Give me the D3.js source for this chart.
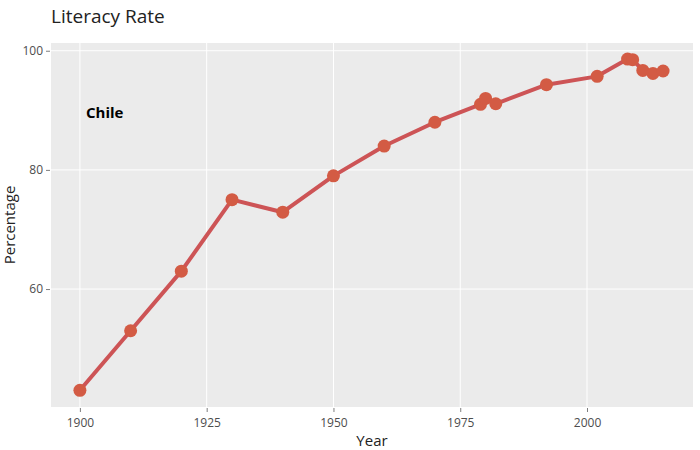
<!DOCTYPE html>
<html>
<head>
<meta charset="utf-8">
<script src="https://cdn.jsdelivr.net/npm/d3@7"></script>
<style>
  body { margin: 0; background: #fff; }
  svg { display: block; font-family: "Open Sans", "DejaVu Sans", sans-serif; }
</style>
</head>
<body>
<div id="chart"></div>
<script>
// literacy rate, Chile
const years = [1900, 1910, 1920, 1930, 1940, 1950, 1960, 1970, 1979, 1980, 1982, 1992, 2002, 2008, 2009, 2011, 2013, 2015]
const rates = [43.0, 53.0, 63.0, 75.0, 72.9, 79.0, 84.0, 88.0, 91.0, 92.0, 91.1, 94.3, 95.7, 98.6, 98.5, 96.7, 96.2, 96.6]
const xTicks = [1900, 1925, 1950, 1975, 2000]
const yTicks = [60, 80, 100]

const width = 700
const height = 450
const margin = { top: 43, right: 7, bottom: 43, left: 51 }
const plotW = width - margin.left - margin.right
const plotH = height - margin.top - margin.bottom

const svg = d3.select('#chart').append('svg')
  .attr('width', width)
  .attr('height', height)

const x = d3.scaleLinear().domain([1894.3, 2020.9]).range([0, plotW])
const y = d3.scaleLinear().domain([40.2, 101.3]).range([plotH, 0])

const g = svg.append('g').attr('transform', `translate(${margin.left},${margin.top})`)

g.append('rect')
  .attr('width', plotW)
  .attr('height', plotH)
  .attr('fill', '#ebebeb')

// grid
g.selectAll('.gx').data(xTicks).enter().append('line')
  .attr('x1', d => x(d)).attr('x2', d => x(d))
  .attr('y1', 0).attr('y2', plotH)
  .attr('stroke', '#fff').attr('stroke-width', 1)
g.selectAll('.gy').data(yTicks).enter().append('line')
  .attr('x1', 0).attr('x2', plotW)
  .attr('y1', d => y(d)).attr('y2', d => y(d))
  .attr('stroke', '#fff').attr('stroke-width', 1)

// axes
const xAxis = g.append('g')
  .attr('transform', `translate(0,${plotH + 1})`)
  .call(d3.axisBottom(x).tickValues(xTicks).tickFormat(d3.format('d')).tickSize(4).tickPadding(6))
const yAxis = g.append('g')
  .attr('transform', 'translate(-1,0)')
  .call(d3.axisLeft(y).tickValues(yTicks).tickSize(4).tickPadding(3))
;[xAxis, yAxis].forEach(a => {
  a.select('.domain').remove()
  a.selectAll('.tick line').attr('stroke', '#7f7f7f')
  a.selectAll('.tick text')
    .attr('fill', '#4d4d4d')
    .style('font-size', '12px')
    .style('font-family', '"Open Sans", sans-serif')
})

// line + markers
const line = d3.line()
  .x((d, i) => x(years[i]))
  .y(d => y(d))
g.append('path')
  .attr('d', line(rates))
  .attr('fill', 'none')
  .attr('stroke', '#cd5456')
  .attr('stroke-width', 4)
  .attr('stroke-linejoin', 'round')

g.selectAll('.dot').data(rates).enter().append('circle')
  .attr('cx', (d, i) => x(years[i]))
  .attr('cy', d => y(d))
  .attr('r', 6.5)
  .attr('fill', '#d35b44')

// annotation
g.append('text')
  .attr('x', x(1901.2))
  .attr('y', y(89.4))
  .attr('dominant-baseline', 'middle')
  .style('font-size', '15px')
  .style('font-weight', 'bold')
  .attr('fill', '#000')
  .text('Chile')

// titles
svg.append('text')
  .attr('x', 51)
  .attr('y', 23)
  .style('font-size', '19px')
  .attr('fill', '#222')
  .text('Literacy Rate')

svg.append('text')
  .attr('x', margin.left + plotW / 2)
  .attr('y', 446)
  .attr('text-anchor', 'middle')
  .style('font-size', '15px')
  .attr('fill', '#222')
  .text('Year')

svg.append('text')
  .attr('transform', `translate(15,${margin.top + plotH / 2}) rotate(-90)`)
  .attr('text-anchor', 'middle')
  .style('font-size', '15px')
  .attr('fill', '#222')
  .text('Percentage')
</script>
</body>
</html>
